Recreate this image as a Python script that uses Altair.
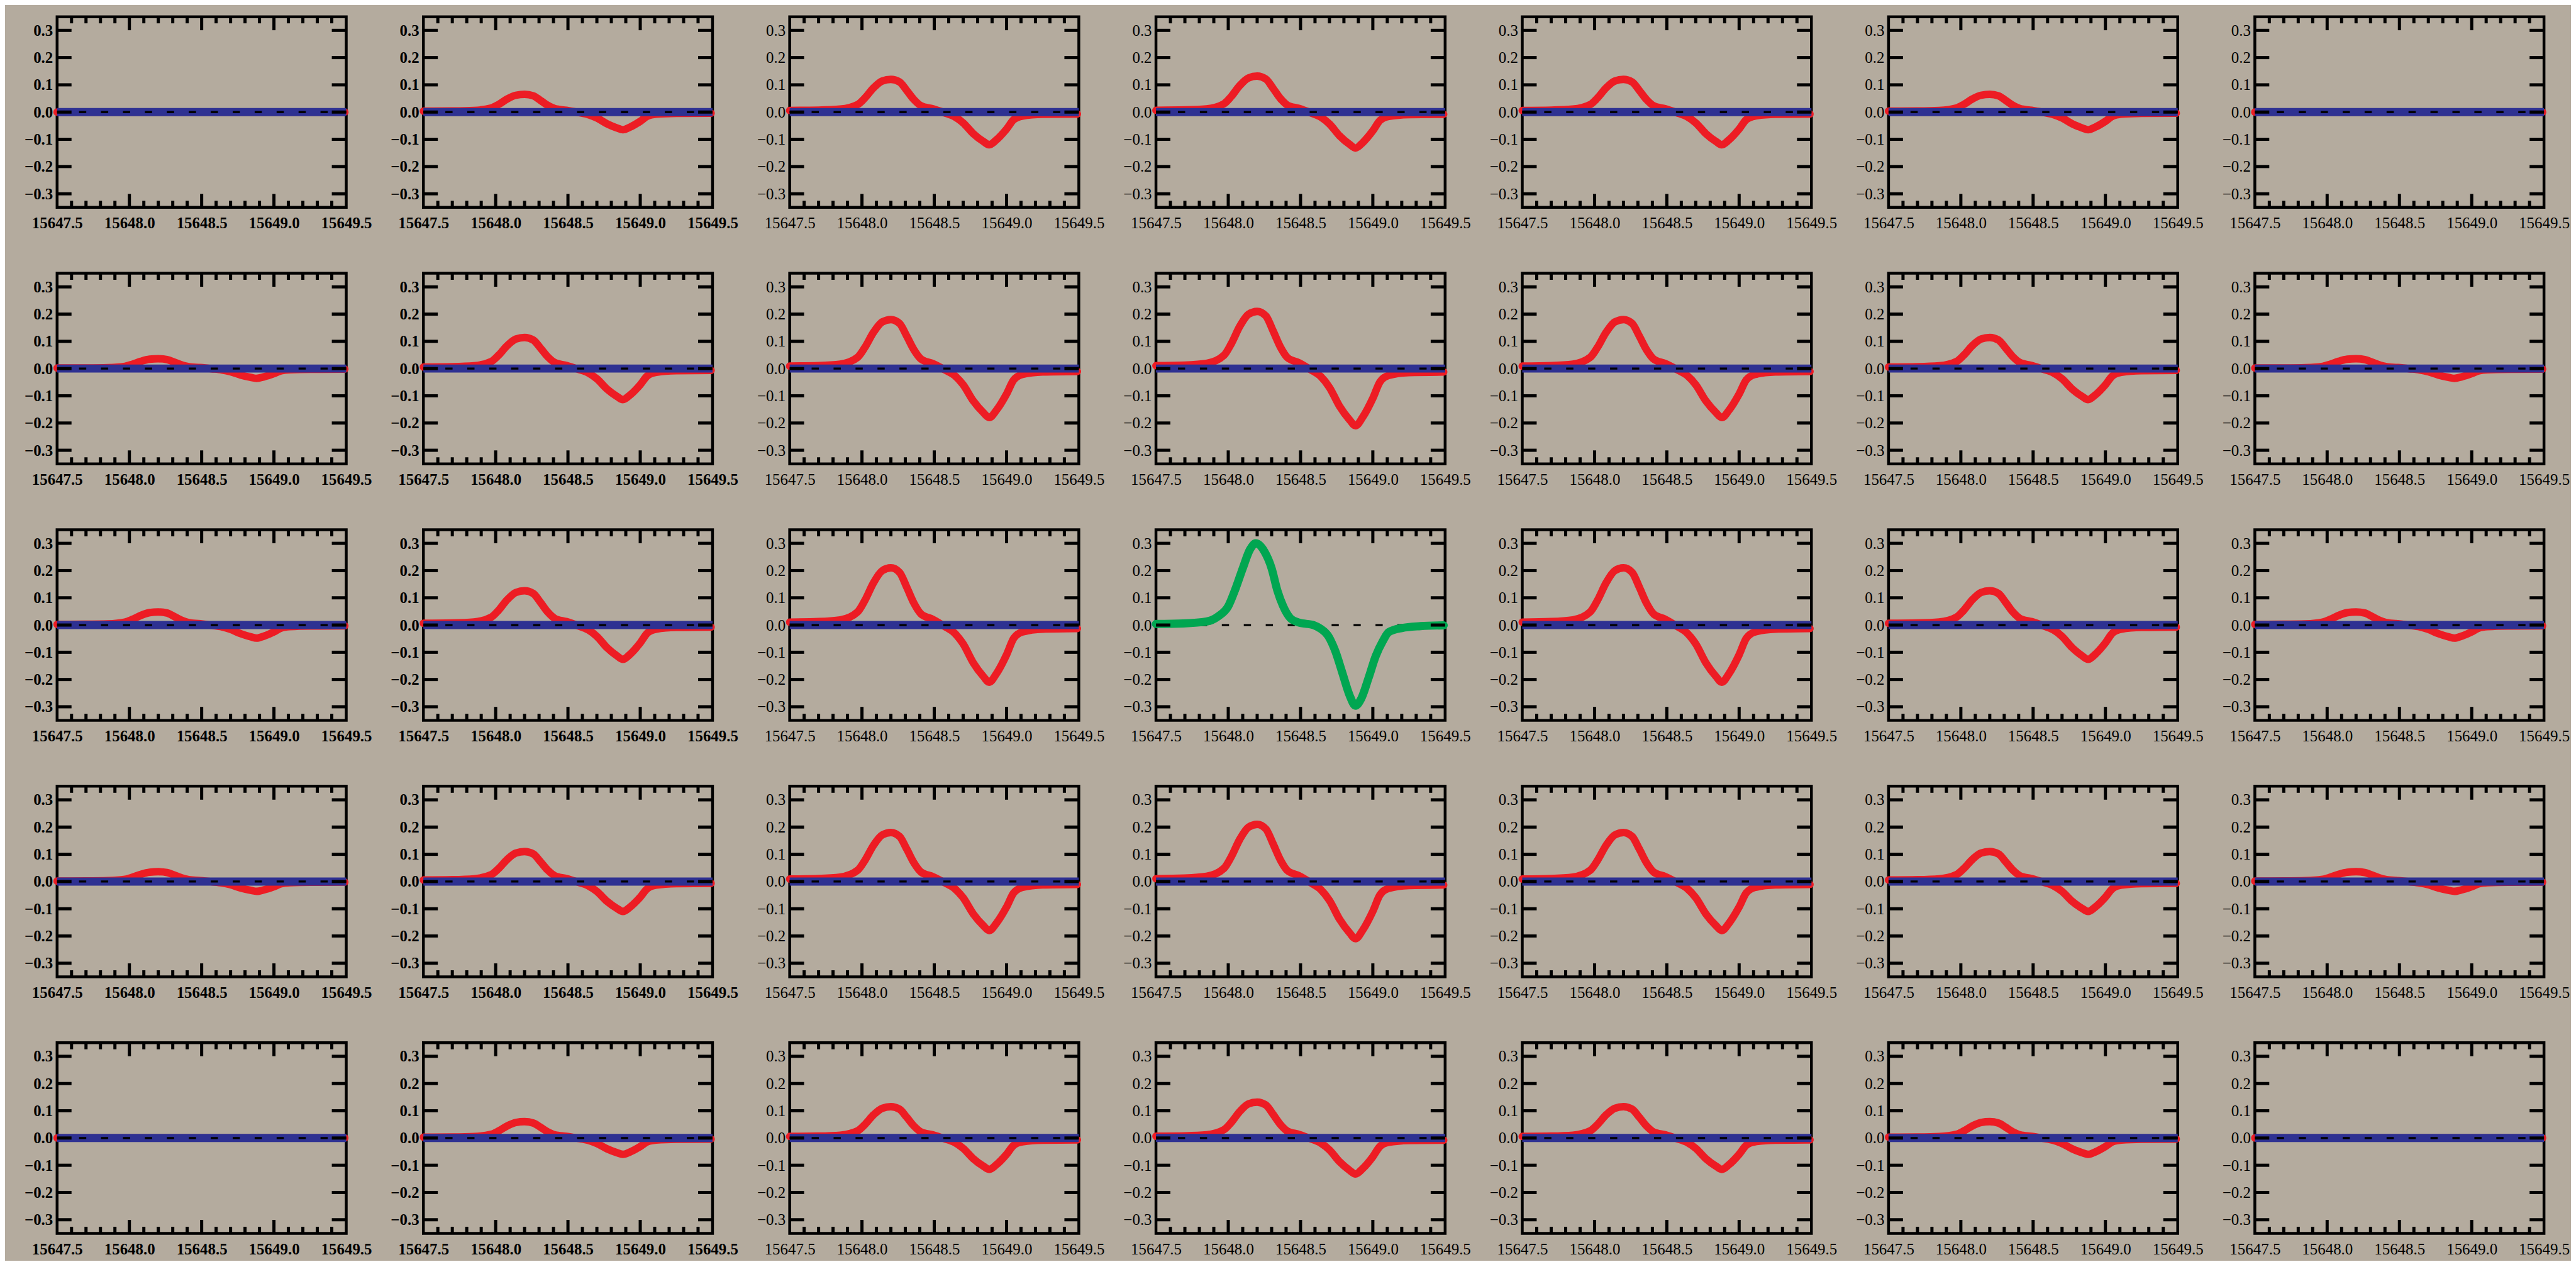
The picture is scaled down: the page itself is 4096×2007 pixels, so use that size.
import altair as alt
import pandas as pd

FONT = "Liberation Serif"

# ---- data ----
x_label_values = [15647.5, 15648.0, 15648.5, 15649.0, 15649.5]
y_label_values = [-0.3, -0.2, -0.1, 0.0, 0.1, 0.2, 0.3]
x_major_ticks = [15648.0, 15648.5, 15649.0]
x_minor_ticks = [15647.6, 15647.7, 15647.8, 15647.9, 15648.1, 15648.2, 15648.3, 15648.4,
                 15648.6, 15648.7, 15648.8, 15648.9, 15649.1, 15649.2, 15649.3, 15649.4]

# red profile shape (normalised to its peak)
red_wave = [15647.50, 15647.70, 15647.85, 15647.97, 15648.02, 15648.08, 15648.14, 15648.20,
            15648.26, 15648.31, 15648.36, 15648.41, 15648.49, 15648.57, 15648.64, 15648.70,
            15648.77, 15648.84, 15648.88, 15648.93, 15649.00, 15649.05, 15649.11, 15649.25,
            15649.49]
red_shape = [0.05, 0.06, 0.09, 0.23, 0.43, 0.74, 0.95, 1.00,
             0.92, 0.66, 0.38, 0.19, 0.10, -0.02, -0.14, -0.33,
             -0.66, -0.90, -1.00, -0.85, -0.52, -0.23, -0.12, -0.07,
             -0.06]

# peak amplitude of the red profile in each panel (rows top to bottom)
red_amp = [
    [0.000, 0.065, 0.120, 0.132, 0.120, 0.065, 0.000],
    [0.036, 0.114, 0.180, 0.210, 0.180, 0.114, 0.036],
    [0.048, 0.126, 0.210, 0.000, 0.210, 0.126, 0.048],
    [0.036, 0.110, 0.180, 0.210, 0.180, 0.110, 0.036],
    [0.000, 0.060, 0.115, 0.132, 0.115, 0.060, 0.000],
]

# green profile in the centre panel
green_panel = (2, 3)
green_wave = [15647.50, 15647.69, 15647.85, 15647.93, 15648.00, 15648.05, 15648.10, 15648.15,
              15648.19, 15648.25, 15648.30, 15648.34, 15648.38, 15648.43, 15648.49, 15648.59,
              15648.64, 15648.69, 15648.74, 15648.79, 15648.84, 15648.88, 15648.92, 15648.97,
              15649.02, 15649.07, 15649.11, 15649.20, 15649.33, 15649.49]
green_val = [0.004, 0.006, 0.013, 0.032, 0.069, 0.133, 0.208, 0.277,
             0.300, 0.270, 0.208, 0.126, 0.069, 0.025, 0.009, 0.000,
             -0.014, -0.039, -0.095, -0.177, -0.259, -0.296, -0.270, -0.195,
             -0.114, -0.058, -0.026, -0.011, -0.004, -0.001]

zero_line_wave = [15647.5, 15649.5]
bold_cols = [0, 1]

# ---- styling ----
W, H = 461, 304
RED = "#ed1c24"
GREEN = "#00a651"
BLUE = "#2e3192"
BG = "#b4ab9e"

xs = alt.Scale(domain=[15647.5, 15649.5], nice=False, zero=False)
ys = alt.Scale(domain=[-0.35, 0.35], nice=False, zero=False)

zero_df = pd.DataFrame({"w": zero_line_wave, "v": [0.0, 0.0]})
xmaj_df = pd.DataFrame({"t": x_major_ticks})
xmin_df = pd.DataFrame({"t": x_minor_ticks})
ytick_df = pd.DataFrame({"t": y_label_values})


def panel(r, c):
    weight = "bold" if c in bold_cols else "normal"
    xaxis = alt.Axis(values=x_label_values, format=".1f", ticks=False, domain=False,
                     grid=False, labelFlush=False, labelOverlap=False, labelFont=FONT,
                     labelFontSize=25, labelFontWeight=weight, labelColor="black",
                     labelPadding=13, title=None)
    yaxis = alt.Axis(values=y_label_values, format=".1f", ticks=False, domain=False,
                     grid=False, labelFlush=False, labelOverlap=False, labelFont=FONT,
                     labelFontSize=25, labelFontWeight=weight, labelColor="black",
                     labelPadding=7, title=None)
    X = lambda f: alt.X(f, type="quantitative", scale=xs, axis=xaxis)
    Y = lambda f: alt.Y(f, type="quantitative", scale=ys, axis=yaxis)

    band = alt.Chart(zero_df).mark_line(color=BLUE, strokeWidth=13, strokeCap="butt").encode(
        x=X("w"), y=Y("v"))
    dash = alt.Chart(zero_df).mark_line(color="black", strokeWidth=3.3, strokeCap="butt",
                                        strokeDash=[11.5, 23.5]).encode(x=X("w"), y=Y("v"))
    layers = []
    if (r, c) == green_panel:
        gdf = pd.DataFrame({"w": green_wave, "v": green_val})
        gline = alt.Chart(gdf).mark_line(color=GREEN, strokeWidth=13, interpolate="monotone",
                                         strokeCap="round", strokeJoin="round").encode(
            x=X("w"), y=Y("v"))
        layers += [dash, gline]
    else:
        a = red_amp[r][c]
        rdf = pd.DataFrame({"w": red_wave, "v": [a * s for s in red_shape]})
        rline = alt.Chart(rdf).mark_line(color=RED, strokeWidth=12, interpolate="monotone",
                                         strokeCap="round", strokeJoin="round").encode(
            x=X("w"), y=Y("v"))
        layers += [rline, band, dash]

    tk = dict(color="black", strokeWidth=5, strokeCap="butt")
    layers += [
        alt.Chart(xmaj_df).mark_rule(**tk).encode(x=X("t"), y=alt.value(H), y2=alt.value(H - 21.5)),
        alt.Chart(xmaj_df).mark_rule(**tk).encode(x=X("t"), y=alt.value(0), y2=alt.value(21.5)),
        alt.Chart(xmin_df).mark_rule(**tk).encode(x=X("t"), y=alt.value(H), y2=alt.value(H - 10.5)),
        alt.Chart(xmin_df).mark_rule(**tk).encode(x=X("t"), y=alt.value(0), y2=alt.value(10.5)),
        alt.Chart(ytick_df).mark_rule(**tk).encode(y=Y("t"), x=alt.value(0), x2=alt.value(23)),
        alt.Chart(ytick_df).mark_rule(**tk).encode(y=Y("t"), x=alt.value(W), x2=alt.value(W - 23)),
    ]
    return alt.layer(*layers).properties(width=W, height=H)


charts = [panel(r, c) for r in range(5) for c in range(7)]

chart = alt.concat(*charts, columns=7, spacing={"row": 105, "column": 123},
                   bounds="flush").properties(
    background=BG,
    padding={"left": 28, "top": 11, "right": 0, "bottom": 0},
).configure_view(stroke="black", strokeWidth=4.5, fill=None)

chart.save("out.html", embed_options={"renderer": "svg", "actions": False})
